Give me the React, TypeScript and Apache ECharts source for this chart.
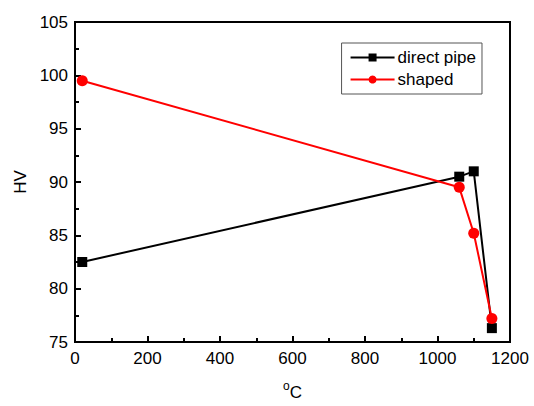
import React, { useEffect, useRef } from "react";
import * as echarts from "echarts";

const directX = [20, 1060, 1100, 1150];
const directY = [82.5, 90.5, 91.0, 76.3];
const shapedX = [20, 1060, 1100, 1150];
const shapedY = [99.5, 89.5, 85.2, 77.2];

const font = "Liberation Sans, Arial, sans-serif";

export default function App() {
  const ref = useRef<HTMLDivElement>(null);
  useEffect(() => {
    if (!ref.current) return;
    const chart = echarts.init(ref.current, undefined, { renderer: "svg" });
    const tickStyle = { color: "#000", width: 2 };
    chart.setOption({
      animation: false,
      backgroundColor: "#fff",
      grid: { left: 75, right: 24, top: 22, bottom: 57, show: true, borderColor: "#000", borderWidth: 2, backgroundColor: "transparent" },
      legend: {
        right: 52,
        top: 43,
        orient: "vertical",
        borderColor: "#555",
        borderWidth: 1,
        padding: [6, 6, 6, 8],
        itemGap: 5,
        itemWidth: 44,
        itemHeight: 10,
        textStyle: { fontFamily: font, fontSize: 17, color: "#000", padding: [0, 0, 0, -2] },
        data: ["direct pipe", "shaped"],
      },
      xAxis: [
        {
          type: "value",
          min: 0,
          max: 1200,
          interval: 200,
          name: "{o|o}{c|C}",
          nameLocation: "middle",
          nameGap: 38,
          nameTextStyle: {
            rich: {
              o: { fontFamily: font, fontSize: 12, color: "#000", verticalAlign: "top", padding: [0, 0, 8, 0] },
              c: { fontFamily: font, fontSize: 17, color: "#000", padding: [4, 0, 0, 0] },
            },
          },
          axisLine: { lineStyle: { color: "#000", width: 2 } },
          axisTick: { inside: true, length: 6, lineStyle: tickStyle },
          axisLabel: { fontFamily: font, fontSize: 17, color: "#000", margin: 8, formatter: (v: number) => String(v) },
          splitLine: { show: false },
        },
        {
          type: "value",
          min: 0,
          max: 1200,
          interval: 100,
          position: "bottom",
          axisLine: { show: false },
          axisTick: { inside: true, length: 4, lineStyle: tickStyle },
          axisLabel: { show: false },
          splitLine: { show: false },
        },
      ],
      yAxis: [
        {
          type: "value",
          min: 75,
          max: 105,
          interval: 5,
          name: "HV",
          nameLocation: "middle",
          nameGap: 46,
          nameTextStyle: { fontFamily: font, fontSize: 17, color: "#000" },
          axisLine: { lineStyle: { color: "#000", width: 2 } },
          axisTick: { inside: true, length: 6, lineStyle: tickStyle },
          axisLabel: { fontFamily: font, fontSize: 17, color: "#000", margin: 7 },
          splitLine: { show: false },
        },
        {
          type: "value",
          min: 75,
          max: 105,
          interval: 2.5,
          position: "left",
          axisLine: { show: false },
          axisTick: { inside: true, length: 4, lineStyle: tickStyle },
          axisLabel: { show: false },
          splitLine: { show: false },
        },
      ],
      series: [
        {
          name: "direct pipe",
          type: "line",
          data: directX.map((x, i) => [x, directY[i]]),
          symbol: "rect",
          symbolSize: 10,
          color: "#000",
          lineStyle: { color: "#000", width: 2 },
          itemStyle: { color: "#000" },
        },
        {
          name: "shaped",
          type: "line",
          data: shapedX.map((x, i) => [x, shapedY[i]]),
          symbol: "circle",
          symbolSize: 11,
          color: "#f00",
          lineStyle: { color: "#f00", width: 2 },
          itemStyle: { color: "#f00" },
        },
      ],
    });
    return () => chart.dispose();
  }, []);
  return <div ref={ref} style={{ width: 534, height: 406, position: "absolute", left: 0, top: 0 }} />;
}
